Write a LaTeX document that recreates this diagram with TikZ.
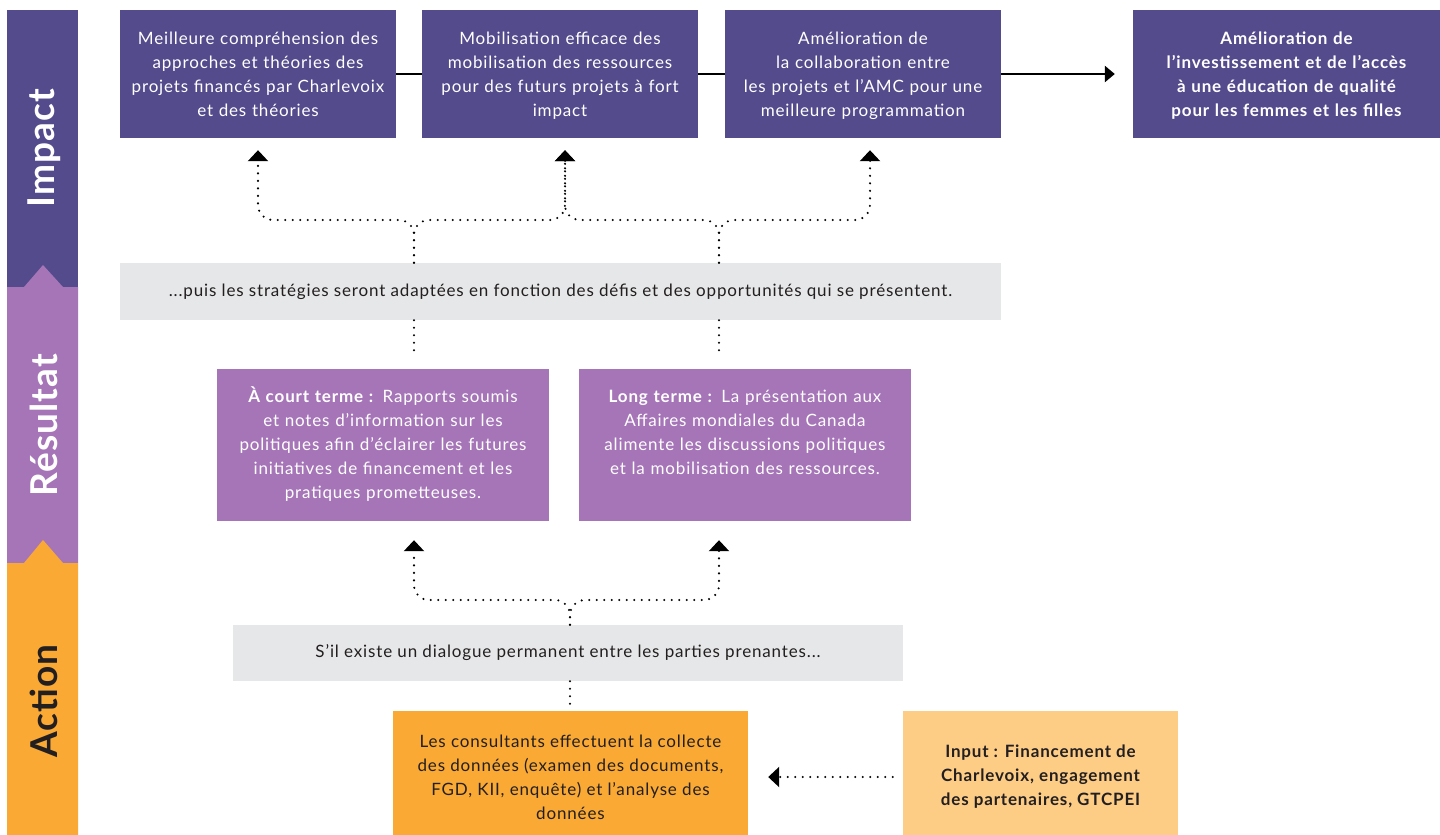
\documentclass[tikz,border=0pt]{standalone}
\usepackage{fontspec}
\setmainfont{Lato}[LetterSpace=5]
\newfontfamily\sidefont{Lato}[LetterSpace=3]
\usetikzlibrary{arrows.meta}
\definecolor{impactc}{HTML}{544B8C}
\definecolor{resultc}{HTML}{A675B8}
\definecolor{actionc}{HTML}{F9A934}
\definecolor{inputc}{HTML}{FDCD86}
\definecolor{greyc}{HTML}{E6E7E8}
\definecolor{inkc}{HTML}{231F20}

\begin{document}
\begin{tikzpicture}[x=1pt,y=-1pt,
  lbl/.style={font=\fontsize{17}{24}\selectfont,align=center,inner sep=0pt},
  topbox/.style={lbl,fill=impactc,text=white,minimum width=276,text width=272,text height=19,text depth=78,inner ysep=15.5},
  bar/.style={lbl,fill=greyc,text=inkc,minimum height=57},
  resbox/.style={lbl,fill=resultc,text=white,minimum width=332,text width=322,text height=19,text depth=105,inner ysep=14},
  side/.style={rotate=90,font=\sidefont\fontsize{37}{37}\selectfont\bfseries},
  dots/.style={line width=2.3pt,line cap=round,dash pattern=on 0pt off 7.5pt},
  tip/.style={-{Triangle[width=20pt,length=11pt]}}]
\fill[white] (0,0) rectangle (1440,835);
\useasboundingbox (0,0) rectangle (1440,835);

\fill[impactc] (7,10) rectangle (78,287);
\fill[resultc] (7,287) -- (24,287) -- (43,265) -- (63,287) -- (78,287) -- (78,563) -- (7,563) -- cycle;
\fill[actionc] (7,563) -- (24,563) -- (43,540) -- (63,563) -- (78,563) -- (78,835) -- (7,835) -- cycle;
\path (44,148) node[side,text=white] (simpact) {Impact};
\path (44,425) node[side,text=white] (sresult) {Résultat};
\path (44,701) node[side,text=inkc] (saction) {Action};

\path (258,74) node[topbox] (b1) {Meilleure compréhension des\\approches et théories des\\projets financés par Charlevoix\\et des théories};
\path (560,74) node[topbox] (b2) {Mobilisation efficace des\\mobilisation des ressources\\pour des futurs projets à fort\\impact};
\path (863,74) node[topbox] (b3) {Amélioration de\\la collaboration entre\\les projets et l’AMC pour une\\meilleure programmation};
\path (1286.5,74) node[topbox,minimum width=307,text width=303,font=\fontsize{17}{24}\selectfont\bfseries] (b4) {Amélioration de\\l’investissement et de l’accès\\à une éducation de qualité\\pour les femmes et les filles};

\path (560.5,291.5) node[bar,minimum width=881] (g1) {...puis les stratégies seront adaptées en fonction des défis et des opportunités qui se présentent.};

\path (383,445) node[resbox] (r1) {\textbf{À court terme :} Rapports soumis\\et notes d’information sur les\\politiques afin d’éclairer les futures\\initiatives de financement et les\\pratiques prometteuses.};
\path (745,445) node[resbox] (r2) {\textbf{Long terme :} La présentation aux\\Affaires mondiales du Canada\\alimente les discussions politiques\\et la mobilisation des ressources.};

\path (568,653) node[bar,minimum width=670,minimum height=56] (g2) {S’il existe un dialogue permanent entre les parties prenantes...};

\path (570.5,777) node[lbl,fill=actionc,text=inkc,minimum width=355,minimum height=132] (act) {Les consultants effectuent la collecte\\des données (examen des documents,\\FGD, KII, enquête) et l’analyse des\\données};
\path (1040.5,777) node[lbl,fill=inputc,text=inkc,minimum width=275,minimum height=132,font=\fontsize{17}{24}\selectfont\bfseries] (inp) {Input : Financement de\\Charlevoix, engagement\\des partenaires, GTCPEI};

\coordinate (k1) at (414,220);
\coordinate (k2) at (719,220);
\coordinate (m) at (570,600);

\draw[line width=2.5pt] (b1) -- (b2);
\draw[line width=2.5pt] (b2) -- (b3);
\draw[line width=2.5pt,-{Triangle[width=16pt,length=10pt]},shorten >=18pt] (b3) -- (b4);

\draw[dots,tip,rounded corners=15pt,shorten >=12pt] (g1.north -| k1) -- (k1) -| (b1.south);
\draw[dots,tip,rounded corners=15pt,shorten >=12pt] (g1.north -| k1) -- (k1) -| ([xshift=5]b2.south);
\draw[dots,tip,rounded corners=15pt,shorten >=12pt] (g1.north -| k2) -- (k2) -| ([xshift=5]b2.south);
\draw[dots,tip,rounded corners=15pt,shorten >=12pt] (g1.north -| k2) -- (k2) -| ([xshift=7]b3.south);

\draw[dots,shorten >=14pt] (g1.south -| k1) -- (k1 |- r1.north);
\draw[dots,shorten >=14pt] (g1.south -| k2) -- (k2 |- r2.north);

\draw[dots,tip,rounded corners=15pt,shorten >=19pt] (g2.north -| m) -- (m) -| (k1 |- r1.south);
\draw[dots,tip,rounded corners=15pt,shorten >=19pt] (g2.north -| m) -- (m) -| (k2 |- r2.south);

\draw[dots] (g2.south -| m) -- (m |- act.north);
\draw[dots,tip,shorten <=10pt,shorten >=20pt] (inp.west) -- (inp.west -| act.east);
\end{tikzpicture}
\end{document}
